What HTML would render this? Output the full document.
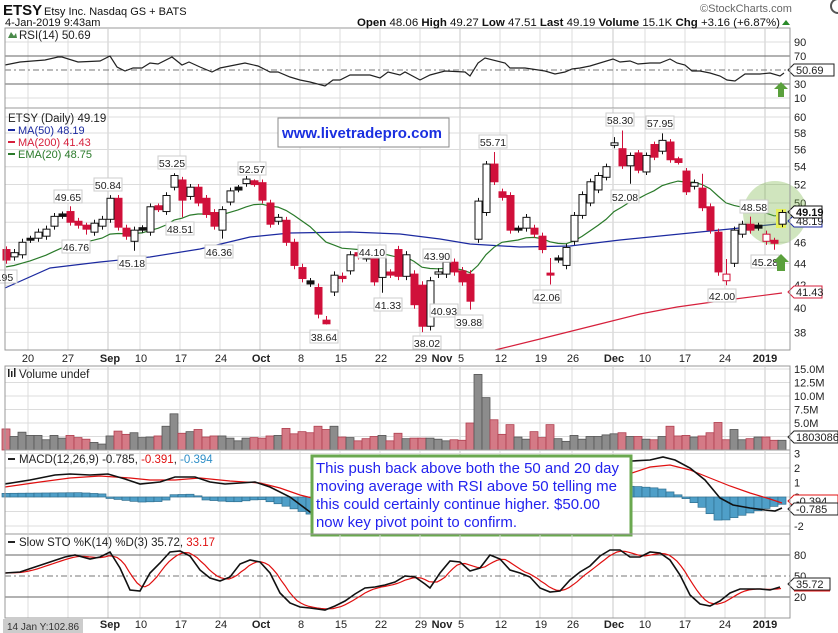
<!DOCTYPE html>
<html><head><meta charset="utf-8"><style>
html,body{margin:0;padding:0;background:#fff;}
svg{display:block;font-family:"Liberation Sans",sans-serif;}
</style></head><body>
<svg id="s" width="838" height="633" viewBox="0 0 838 633" xmlns="http://www.w3.org/2000/svg"></svg>
<script>
var o=[];
function A(s){o.push(s);}
var L=5,R=790;
var C=[[45.3,44.3,45.6,43.95],[44.6,45.0],[44.8,46.0],[46.3,46.3],[46.4,47.0],[46.6,47.3],[47.6,48.6],[48.7,48.75],[49.1,48.0,49.65],[48.1,47.7],[47.6,47.4,,46.76],[47.0,47.9],[47.6,48.3],[48.3,50.5,50.84],[50.5,47.5],[47.4,46.6],[46.1,47.2,,45.18],[47.3,47.35],[47.0,49.6],[49.6,49.4],[49.1,50.8],[51.7,53.0,53.25],[52.5,50.3,,48.51],[50.7,51.7],[51.7,50.0],[50.5,48.8],[49.0,47.6],[47.2,49.3,,46.36],[50.1,51.3],[51.5,51.6],[52.1,52.6],[52.3,52.1,52.57],[52.2,50.3],[50.0,47.8],[48.1,48.5],[48.2,46.0],[46.0,43.8],[43.6,42.6],[42.3,42.2],[41.8,39.5],[39.0,38.7,,38.64],[41.4,42.9],[42.8,42.6],[43.3,44.8],[45.0,44.7],[44.5,44.55,44.9],[44.6,42.3],[42.7,44.7,,41.33],[43.1,43.0],[45.3,42.8],[42.8,44.8],[43.0,40.3],[42.0,38.5,,38.02],[38.5,42.4],[43.0,43.2],[43.0,44.1,44.3],[44.1,43.2],[43.3,42.3],[43.0,40.6,,39.88],[46.3,50.2],[49.0,54.3],[54.3,52.3,55.71],[51.2,50.6],[50.8,47.2],[47.3,47.3],[47.4,48.5],[47.4,46.8],[46.6,45.3],[43.0,43.0,44.5,42.06],[44.4,44.4],[43.8,45.5],[46.1,48.7],[48.7,50.9],[50.0,52.3],[51.4,53.0],[52.8,54.0],[56.5,56.8,57.5],[56.1,54.1,58.30],[54.1,55.3,,52.08],[55.6,53.6],[53.4,55.3],[56.6,55.1],[55.8,57.1,57.95],[56.9,54.8],[54.8,54.6],[53.5,51.2],[51.8,52.2],[51.6,49.5,53.2],[49.6,47.2],[47.0,43.2],[42.4,43.0,44.4,42.00],[44.0,47.2],[46.8,47.8],[47.8,47.2,48.58],[47.5,47.6],[46.1,46.8],[46.1,46.0,,45.28],[47.8,49.0,49.27,47.51]];
function X(i){return 6+8*i;}
function py(p){return 117+471.6*(Math.log(60)-Math.log(p));}
function pl(pts,st){return '<polyline fill="none" '+st+' points="'+pts.map(function(p){return p[0]+','+p[1]}).join(' ')+'"/>';}
function interp(P,x){if(x<=P[0][0])return P[0][1];for(var i=1;i<P.length;i++){if(x<=P[i][0]){var t=(x-P[i-1][0])/(P[i][0]-P[i-1][0]);return P[i-1][1]+t*(P[i][1]-P[i-1][1]);}}return P[P.length-1][1];}
function T(x,y,s,st){A('<text x="'+x+'" y="'+y+'" '+(st||'')+'>'+s+'</text>');}
var grid='#dcdcdc';
var dx=[28,68,108,140,180,220,260,300,340,380,420,460,500,540,572,613,645,685,725,765];
var monthX=[108,260,460,613,765];
function vgrid(y1,y2){dx.forEach(function(x){A('<line x1="'+x+'" y1="'+y1+'" x2="'+x+'" y2="'+y2+'" stroke="'+(monthX.indexOf(x)>=0?'#c8c8c8':grid)+'"/>');});}
vgrid(29,108);
function ry(v){return 56+(70-v)*0.7;}
[90,10].forEach(function(v){A('<line x1="'+L+'" x2="'+R+'" y1="'+ry(v)+'" y2="'+ry(v)+'" stroke="'+grid+'"/>');});
[70,30].forEach(function(v){A('<line x1="'+L+'" x2="'+R+'" y1="'+ry(v)+'" y2="'+ry(v)+'" stroke="#666"/>');});
A('<line x1="'+L+'" x2="'+R+'" y1="'+ry(50)+'" y2="'+ry(50)+'" stroke="#777" stroke-dasharray="6,3,2,3"/>');
var rsi=[[5,65],[20,62],[45,60],[58,57],[62,57],[78,62],[100,61],[110,56],[117,67],[125,71],[133,68],[142,68],[150,63],[158,64],[172,57],[182,65],[189,62],[200,67],[212,72],[220,68],[235,65],[245,63],[258,66],[270,72],[278,72],[290,77],[300,80],[310,82],[325,86],[333,80],[340,80],[350,75],[370,75],[380,78],[388,72],[400,75],[405,72],[420,80],[430,75],[445,71],[465,72],[470,76],[478,63],[485,58],[505,63],[510,68],[525,68],[545,71],[555,74],[565,72],[572,69],[580,68],[590,66],[613,59],[620,62],[630,61],[638,64],[650,63],[660,63],[670,59],[677,63],[685,65],[692,71],[700,71],[710,73],[720,76],[727,80],[735,81],[745,74],[760,74],[770,73],[780,76],[784,73]];
A(pl(rsi,'stroke="#222" stroke-width="1.2"'));
[[90,ry(90)],[70,ry(70)],[30,ry(30)],[10,ry(10)]].forEach(function(a){T(794,a[1]+4,a[0],'font-size="11" fill="#222"');});
A('<polygon points="781,82 788,89 784,89 784,97 778,97 778,89 774,89" fill="#5aa03c"/>');
vgrid(109,350);
for(var p=38;p<=60;p+=2){var yy=py(p);A('<line x1="'+L+'" x2="'+R+'" y1="'+yy+'" y2="'+yy+'" stroke="'+grid+'"/>');if(p!=48)T(794,yy+4,p,'font-size="11" fill="#222"');}
A(pl([[495,350],[540,339],[600,324],[640,314],[677,307],[727,300],[782,293]],'stroke="#d6203c" stroke-width="1.2"'));
A(pl([[5,288],[50,268],[100,262],[150,257],[200,249],[250,237],[290,233],[350,232],[400,234],[440,239],[470,244],[520,247],[570,246],[620,240],[680,234],[730,229],[787,223]],'stroke="#1c2aa0" stroke-width="1.2"'));
var e=43.6,ep=[];C.forEach(function(c,i){e=e+(c[1]-e)*2/21;ep.push([X(i),py(e).toFixed(1)]);});
A(pl(ep,'stroke="#2a7a2a" stroke-width="1.2"'));
A('<circle cx="775" cy="213" r="32" fill="rgba(120,180,70,0.35)"/>');
A('<rect x="776" y="209" width="10" height="19" fill="#e6ef5a"/>');
C.forEach(function(c,i){var x=X(i),op=c[0],cl=c[1],h=c[2]||Math.max(op,cl)+0.35,l=c[3]||Math.min(op,cl)-0.35;var prev=i?C[i-1][1]:cl;var col,fill;
if(Math.abs(op-cl)<0.12){col=cl<prev-0.5?'#d0103a':'#111';fill=col;}else if(cl<op){col='#d0103a';fill=col;}else{col=cl<prev?'#d0103a':'#111';fill='#fff';}
var t=py(Math.max(op,cl)),b=py(Math.min(op,cl));if(b-t<2){t-=1;b+=1;}
A('<line x1="'+(x+0.5)+'" x2="'+(x+0.5)+'" y1="'+py(h)+'" y2="'+py(l)+'" stroke="'+col+'"/>');
A('<rect x="'+(x-3)+'" y="'+t+'" width="7" height="'+(b-t)+'" fill="'+fill+'" stroke="'+col+'" stroke-width="1"/>');});
var ann=[['3.95',3,277],['49.65',68,197],['50.84',108,185],['53.25',172,163],['52.57',252,169],['46.76',76,247],['45.18',132,263],['48.51',180,229],['46.36',219,252],['44.10',372,252],['41.33',388,305],['38.64',324,337],['38.02',427,343],['43.90',437,256],['40.93',444,311],['39.88',469,322],['55.71',493,142],['42.06',547,297],['58.30',620,120],['57.95',660,123],['52.08',625,197],['48.58',754,207],['45.28',765,262],['42.00',722,296]];
ann.forEach(function(a){A('<rect x="'+(a[1]-14)+'" y="'+(a[2]-7)+'" width="28" height="13" fill="#fff" stroke="#ccc"/>');T(a[1],a[2]+4,a[0],'font-size="10.5" text-anchor="middle" fill="#222"');});
A('<polygon points="781,254 789,262 785,262 785,271 777,271 777,262 773,262" fill="#5aa03c"/>');
T(8,122,'ETSY (Daily) 49.19','font-size="11.5" fill="#222"');
A('<rect x="8" y="129" width="7" height="2" fill="#1c2aa0"/>');T(18,134,'MA(50) 48.19','font-size="11" fill="#1c2aa0"');
A('<rect x="8" y="141" width="7" height="2" fill="#d6203c"/>');T(18,146,'MA(200) 41.43','font-size="11" fill="#d6203c"');
A('<rect x="8" y="153" width="7" height="2" fill="#2a7a2a"/>');T(18,158,'EMA(20) 48.75','font-size="11" fill="#2a7a2a"');
A('<rect x="278" y="118" width="171" height="29" fill="#fff" stroke="#888"/>');
T(282,138,'www.livetradepro.com','font-size="15" font-weight="bold" fill="#1a2fe0" textLength="160"');
function dates(y,skip){var lab=[[28,'20'],[68,'27'],[110,'Sep',1],[141,'10'],[181,'17'],[221,'24'],[261,'Oct',1],[301,'8'],[341,'15'],[381,'22'],[421,'29'],[442,'Nov',1],[461,'5'],[501,'12'],[541,'19'],[573,'26'],[614,'Dec',1],[645,'10'],[685,'17'],[725,'24'],[765,'2019',1]];
lab.forEach(function(l){if(skip&&l[0]<80)return;T(l[0],y,l[1],'font-size="11" text-anchor="middle" fill="#222"'+(l[2]?' font-weight="bold"':''));});}
dates(362);
vgrid(367,449);
function vy(m){return 450-5.4*m;}
[15,12.5,10,7.5,5,2.5].forEach(function(m){A('<line x1="'+L+'" x2="'+R+'" y1="'+vy(m)+'" y2="'+vy(m)+'" stroke="'+grid+'"/>');if(m>3)T(794,vy(m)+4,m.toFixed(1)+'M','font-size="11" fill="#222"');});
var vol=[3.9,2.5,3.3,2.7,2.7,1.9,2.7,2.2,2.7,2.3,2.0,1.4,1.1,2.6,3.5,2.9,3.2,2.3,2.4,2.6,4.4,6.7,3.1,3.4,3.8,2.4,2.6,2.6,2.2,1.7,2.2,2.3,2.2,2.6,2.7,4.0,3.0,3.4,3.2,4.4,3.8,4.4,2.4,2.3,1.7,2.1,2.5,2.7,1.7,3.1,2.1,2.2,2.2,2.2,2.0,1.7,1.9,1.8,5.0,14.0,9.7,5.6,2.9,4.7,2.4,2.0,3.4,2.3,4.7,2.1,1.6,2.7,2.0,2.5,2.5,2.8,3.0,3.2,2.5,2.5,2.0,1.9,2.5,4.4,2.6,2.7,2.4,2.6,3.2,5.1,1.9,3.8,1.9,2.1,2.4,2.4,1.8,1.8];
C.forEach(function(c,i){var v=vol[i]||2,x=X(i)-4,prev=i?C[i-1][1]:c[0];var up=c[1]>=prev;
A('<rect x="'+x+'" y="'+vy(v)+'" width="8" height="'+(450-vy(v))+'" fill="'+(up?'#8c8c8c':'#d47a86')+'" stroke="'+(up?'#555':'#b04050')+'" stroke-width="0.8"/>');});
A('<rect x="8" y="369" width="1.5" height="8" fill="#222"/><rect x="11" y="371" width="1.5" height="6" fill="#222"/><rect x="14" y="368" width="1.5" height="9" fill="#222"/>');
T(19,378,'Volume undef','font-size="11.5" fill="#222"');
A('<polygon points="788,437 794,431 838,431 838,443 794,443" fill="#fff" stroke="#222"/>');T(796,441,'1803086','font-size="11" fill="#222"');
vgrid(451,533);
function my(v){return 497-14.5*v;}
[3,2,1,0,-1,-2].forEach(function(v){A('<line x1="'+L+'" x2="'+R+'" y1="'+my(v)+'" y2="'+my(v)+'" stroke="'+grid+'"/>');if(v!=-1)T(794,my(v)+4,v,'font-size="11" fill="#222"');});
var H=[[5,0.25],[80,0.3],[105,0.2],[110,-0.1],[140,-0.35],[165,-0.3],[170,0.15],[195,0.2],[205,-0.2],[235,-0.35],[260,-0.15],[280,-0.5],[311,-1.2],[632,0.75],[660,0.6],[680,0.1],[700,-0.6],[720,-1.7],[740,-1.3],[760,-0.9],[782,-0.5]];
C.forEach(function(c,i){var x=X(i),v=interp(H,x),y0=my(0),y1=my(v);A('<rect x="'+(x-4)+'" y="'+Math.min(y0,y1)+'" width="8" height="'+Math.abs(y1-y0)+'" fill="#4f9fc8" stroke="#2f6f90" stroke-width="0.7"/>');});
A(pl([[5,487],[40,482],[70,478],[100,476],[130,478],[150,480],[175,480],[200,478],[230,481],[260,483],[280,488],[300,495],[320,500],[620,476],[632,473],[650,467],[670,465],[690,470],[710,478],[730,486],[750,493],[770,499],[782,503]],'stroke="#e01010" stroke-width="1.2"'));
A(pl([[5,484],[30,480],[55,475],[70,474],[90,475],[108,474],[125,479],[140,484],[160,482],[175,477],[195,477],[210,482],[225,484],[240,483],[255,482],[270,487],[290,497],[310,512],[330,515],[620,462],[632,461],[650,460],[663,457],[675,460],[690,468],[705,480],[720,498],[733,505],[750,508],[765,510],[775,511],[782,508]],'stroke="#111" stroke-width="1.6"'));
A('<rect x="8" y="458" width="7" height="2" fill="#222"/>');
A('<text x="19" y="463" font-size="11.5" fill="#222">MACD(12,26,9) -0.785, <tspan fill="#e01010">-0.391</tspan>, <tspan fill="#2f8fc8">-0.394</tspan></text>');
A('<polygon points="788,501 794,495 838,495 838,507 794,507" fill="#fff" stroke="#e01010"/>');T(796,505,'-0.394','font-size="11" fill="#222"');
A('<polygon points="788,509 794,503 838,503 838,515 794,515" fill="#fff" stroke="#222"/>');T(796,513,'-0.785','font-size="11" fill="#222"');
A('<rect x="312" y="456" width="319" height="79" fill="#fff" stroke="#6aa84f" stroke-width="3"/>');
var tl=[['This push back above both the 50 and 20 day',473,303],['moving average with RSI above 50 telling me',491,301],['this could certainly continue higher. $50.00',509,284],['now key pivot point to confirm.',527,201]];
tl.forEach(function(t){T(316,t[1],t[0].replace('$','&#36;'),'font-size="15" fill="#2222ee" textLength="'+t[2]+'" lengthAdjust="spacingAndGlyphs"');});
vgrid(535,618);
function sy(v){return 555+(80-v)*0.7;}
[80,20].forEach(function(v){A('<line x1="'+L+'" x2="'+R+'" y1="'+sy(v)+'" y2="'+sy(v)+'" stroke="#666"/>');T(794,sy(v)+4,v,'font-size="11" fill="#222"');});
A('<line x1="'+L+'" x2="'+R+'" y1="'+sy(50)+'" y2="'+sy(50)+'" stroke="#777" stroke-dasharray="6,3,2,3"/>');T(794,sy(50)+4,'50','font-size="11" fill="#222"');
var K=[[5,573],[20,572],[35,567],[50,562],[65,557],[75,555],[90,559],[100,557],[110,552],[120,568],[130,590],[140,591],[150,573],[160,563],[170,552],[180,551],[190,556],[200,570],[210,578],[220,581],[230,577],[240,564],[250,560],[260,562],[270,573],[280,593],[290,603],[300,607],[310,608],[325,610],[335,606],[345,601],[355,594],[365,588],[375,587],[385,585],[395,582],[405,576],[415,577],[425,584],[430,588],[440,573],[450,561],[460,562],[470,571],[480,568],[490,555],[500,559],[510,570],[520,573],[530,577],[540,588],[550,592],[560,591],[570,580],[580,572],[590,566],[600,556],[610,550],[620,550],[630,557],[640,557],[650,552],[660,553],[670,560],[680,575],[690,595],[700,604],[710,606],[720,601],[730,593],[740,589],[750,589],[760,589],[770,590],[780,587]];
var D=[];for(var x=5;x<=782;x+=4){D.push([x,((interp(K,x)+interp(K,x-8)+interp(K,x-16))/3).toFixed(1)]);}
A(pl(D,'stroke="#e01010" stroke-width="1.2"'));
A(pl(K,'stroke="#111" stroke-width="1.6"'));
A('<rect x="8" y="541" width="7" height="2" fill="#222"/>');
A('<text x="19" y="546" font-size="11.5" fill="#222">Slow STO %K(14) %D(3) 35.72, <tspan fill="#e01010">33.17</tspan></text>');
A('<polygon points="788,584 794,578 830,578 830,590 794,590" fill="#fff" stroke="#222"/>');T(796,588,'35.72','font-size="11" fill="#222"');
A('<line x1="794" y1="591" x2="830" y2="591" stroke="#e01010"/>');
A('<polygon points="788,70 794,64 834,64 834,76 794,76" fill="#fff" stroke="#222"/>');T(796,74,'50.69','font-size="11" fill="#222"');
A('<polygon points="788,221 794,215 822,215 822,227 794,227" fill="#fff" stroke="#1c2aa0"/>');T(796,225,'48.19','font-size="11" fill="#222"');
A('<polygon points="788,212 794,206 822,206 822,218 794,218" fill="#fff" stroke="#111"/>');T(796,216,'49.19','font-size="11" font-weight="bold" fill="#111"');
A('<polygon points="788,292 794,286 822,286 822,298 794,298" fill="#fff" stroke="#d6203c"/>');T(796,296,'41.43','font-size="11" fill="#222"');
[[28,108],[108,350],[366,450],[450,534],[534,618]].forEach(function(b){A('<rect x="'+L+'" y="'+b[0]+'" width="'+(R-L)+'" height="'+(b[1]-b[0])+'" fill="none" stroke="#999"/>');});
A('<polygon points="8,38 11,32 14,36 16,33 17,38" fill="#4a8a4a"/>');
T(19,39,'RSI(14) 50.69','font-size="11.5" fill="#222"');
dates(628,1);
A('<rect x="3" y="619" width="80" height="14" fill="#ccc"/>');T(7,630,'14 Jan Y:102.86','font-size="10" fill="#333"');
T(3,15,'ETSY','font-size="15" font-weight="bold" fill="#111"');
T(44,15,'Etsy Inc.  Nasdaq GS + BATS','font-size="11" fill="#111"');
T(5,26,'4-Jan-2019 9:43am','font-size="11" fill="#111"');
A('<text x="357" y="26" font-size="11" fill="#111" textLength="423" lengthAdjust="spacingAndGlyphs"><tspan font-weight="bold">Open</tspan> 48.06  <tspan font-weight="bold">High</tspan> 49.27  <tspan font-weight="bold">Low</tspan> 47.51  <tspan font-weight="bold">Last</tspan> 49.19  <tspan font-weight="bold">Volume</tspan> 15.1K  <tspan font-weight="bold">Chg</tspan> +3.16 (+6.87%)</text>');
A('<polygon points="782,25 786,20 790,25" fill="#2a8a2a"/>');
T(700,12,'&#169;StockCharts.com','font-size="11" fill="#666"');
A('<circle cx="838" cy="6" r="7" fill="none" stroke="#555" stroke-width="2"/>');
document.getElementById('s').innerHTML=o.join('');
</script>
</body></html>
